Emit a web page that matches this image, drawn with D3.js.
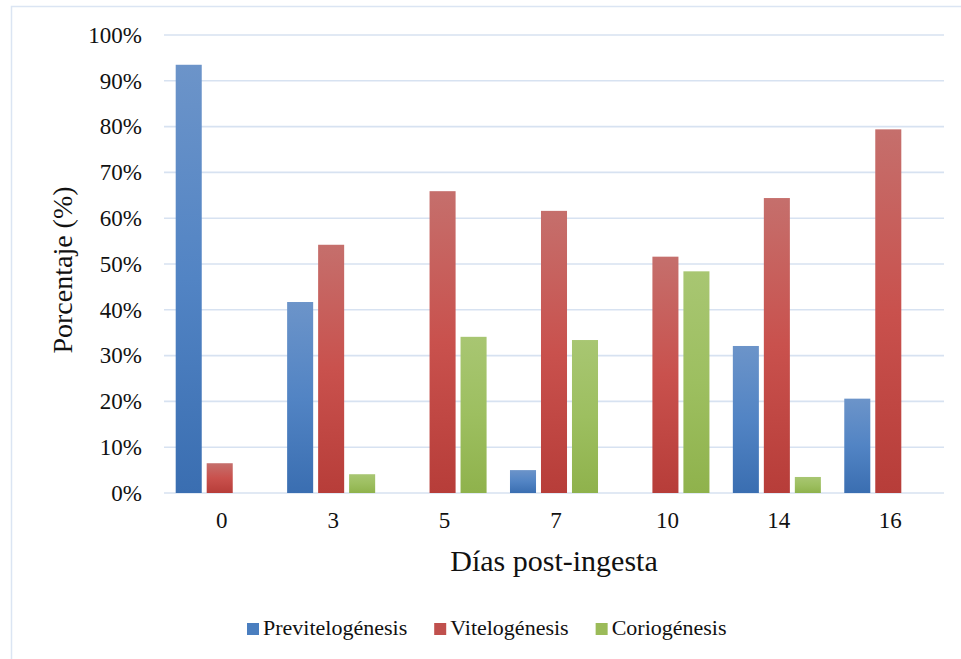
<!DOCTYPE html>
<html>
<head>
<meta charset="utf-8">
<script src="https://cdn.jsdelivr.net/npm/d3@7"></script>
<style>
  html, body { margin: 0; padding: 0; background: #fff; }
  svg { display: block; }
  text { font-family: "Liberation Serif", "Times New Roman", serif; fill: #111; }
</style>
</head>
<body>
<svg id="chart" width="961" height="659"></svg>
<script>
// Days after ingestion (categories on the x axis)
const days = ["0", "3", "5", "7", "10", "14", "16"];
// Oocyte stage names (series)
const stages = ["Previtelogénesis", "Vitelogénesis", "Coriogénesis"];
// Percentage of each stage per day
const previtelogenesis = [93.5, 41.7, 0, 5.0, 0, 32.1, 20.6];
const vitelogenesis    = [6.5, 54.2, 65.9, 61.6, 51.6, 64.4, 79.4];
const coriogenesis     = [0, 4.1, 34.1, 33.4, 48.4, 3.5, 0];
// Y axis ticks (percent)
const yTicks = [0, 10, 20, 30, 40, 50, 60, 70, 80, 90, 100];

const seriesValues = [previtelogenesis, vitelogenesis, coriogenesis];
const rows = days.map((d, i) => ({
  day: d,
  values: stages.map((s, k) => ({ stage: s, value: seriesValues[k][i] }))
}));

// Fill gradients: lighter at the top, darker at the base
const gradients = {
  "Previtelogénesis": ["#6c94c9", "#5284c4", "#3a6eb1"],
  "Vitelogénesis":    ["#c56f6c", "#c9514d", "#b73d39"],
  "Coriogénesis":     ["#a8c672", "#9dbf60", "#8fb24c"]
};
const swatch = {
  "Previtelogénesis": "#4a7ebf",
  "Vitelogénesis":    "#c0504d",
  "Coriogénesis":     "#9bbb59"
};

const svg = d3.select("#chart");
const gridColor = "#d7e2f1";

// Outer frame of the chart area
svg.append("rect")
  .attr("x", 11.5).attr("y", 6.5)
  .attr("width", 1000).attr("height", 700)
  .attr("fill", "none")
  .attr("stroke", "#dbe5f3")
  .attr("stroke-width", 1.5);

const defs = svg.append("defs");
stages.forEach((s, i) => {
  const g = defs.append("linearGradient")
    .attr("id", "grad" + i)
    .attr("x1", 0).attr("y1", 0).attr("x2", 0).attr("y2", 1);
  g.append("stop").attr("offset", "0%").attr("stop-color", gradients[s][0]);
  g.append("stop").attr("offset", "50%").attr("stop-color", gradients[s][1]);
  g.append("stop").attr("offset", "100%").attr("stop-color", gradients[s][2]);
});

const plot = { left: 164, right: 944, top: 35, bottom: 493 };

const x0 = d3.scaleBand()
  .domain(days)
  .range([plot.left, plot.right])
  .paddingInner(0.21)
  .paddingOuter(0.105);

const x1 = d3.scaleBand()
  .domain(stages)
  .range([0, x0.bandwidth()])
  .paddingInner(0.16);

const y = d3.scaleLinear()
  .domain([0, 100])
  .range([plot.bottom, plot.top]);

// Horizontal gridlines (including the baseline)
svg.append("g")
  .selectAll("line")
  .data(yTicks)
  .join("line")
  .attr("x1", plot.left).attr("x2", plot.right)
  .attr("y1", d => y(d)).attr("y2", d => y(d))
  .attr("stroke", gridColor)
  .attr("stroke-width", 1.6);

// Y axis labels
const yAxis = d3.axisLeft(y)
  .tickValues(yTicks)
  .tickFormat(d => d + "%")
  .tickSize(0)
  .tickPadding(0);
const yg = svg.append("g")
  .attr("transform", `translate(${plot.left - 22},0)`)
  .call(yAxis);
yg.select(".domain").remove();
yg.selectAll("text")
  .attr("font-size", 23)
  .attr("font-family", "Liberation Serif, serif")
  .attr("fill", "#111");

// X axis labels
const xAxis = d3.axisBottom(x0).tickSize(0).tickPadding(0);
const xg = svg.append("g")
  .attr("transform", `translate(2,${plot.bottom + 19})`)
  .call(xAxis);
xg.select(".domain").remove();
xg.selectAll("text")
  .attr("font-size", 23)
  .attr("font-family", "Liberation Serif, serif")
  .attr("fill", "#111");

// Bars
svg.append("g")
  .selectAll("g")
  .data(rows)
  .join("g")
  .attr("transform", d => `translate(${x0(d.day)},0)`)
  .selectAll("rect")
  .data(d => d.values.filter(v => v.value > 0))
  .join("rect")
  .attr("x", d => x1(d.stage))
  .attr("width", x1.bandwidth())
  .attr("y", d => y(d.value))
  .attr("height", d => y(0) - y(d.value))
  .attr("fill", d => `url(#grad${stages.indexOf(d.stage)})`);

// Axis titles
svg.append("text")
  .attr("x", (plot.left + plot.right) / 2)
  .attr("y", 571)
  .attr("text-anchor", "middle")
  .attr("font-size", 30)
  .text("Días post-ingesta");

svg.append("text")
  .attr("transform", `translate(72,${(plot.top + plot.bottom) / 2 + 6}) rotate(-90)`)
  .attr("text-anchor", "middle")
  .attr("font-size", 28)
  .text("Porcentaje (%)");

// Legend
const legend = svg.append("g").attr("transform", "translate(247,635)");
let lx = 0;
stages.forEach(s => {
  const item = legend.append("g").attr("transform", `translate(${lx},0)`);
  item.append("rect")
    .attr("x", 0).attr("y", -12)
    .attr("width", 12).attr("height", 12)
    .attr("fill", swatch[s]);
  const t = item.append("text")
    .attr("x", 16).attr("y", 0)
    .attr("font-size", 22)
    .text(s);
  lx += 16 + t.node().getComputedTextLength() + 27;
});
</script>
</body>
</html>
